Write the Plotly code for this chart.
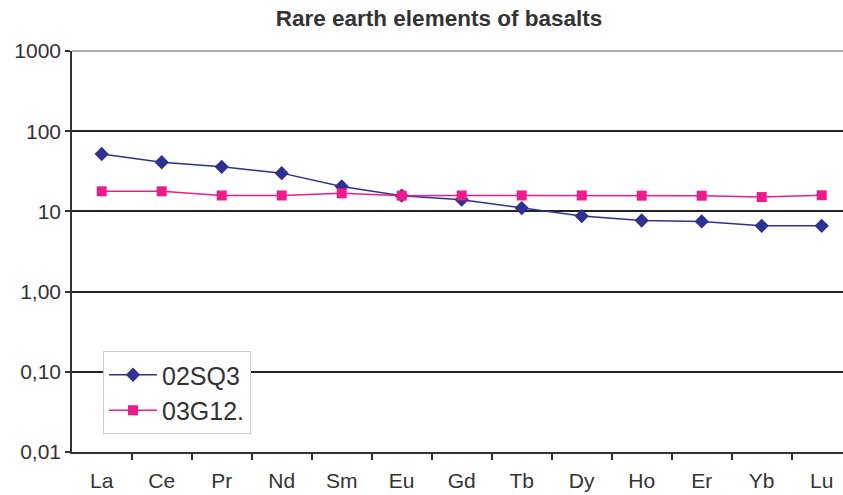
import plotly.graph_objects as go

elements = ["La", "Ce", "Pr", "Nd", "Sm", "Eu", "Gd", "Tb", "Dy", "Ho", "Er", "Yb", "Lu"]
s02SQ3 = [52, 41, 36, 30, 20.5, 15.7, 14, 11, 8.75, 7.7, 7.5, 6.6, 6.6]
s03G12 = [17.8, 17.8, 15.8, 15.8, 16.8, 15.7, 15.8, 15.8, 15.8, 15.7, 15.7, 15.1, 15.9]
ytick_vals = [0.01, 0.1, 1, 10, 100, 1000]
ytick_text = ["0,01", "0,10", "1,00", "10", "100", "1000"]

fig = go.Figure()
fig.add_trace(go.Scatter(
    x=elements, y=s02SQ3, name="02SQ3", mode="lines+markers",
    line=dict(color="#2E3192", width=1.5),
    marker=dict(symbol="diamond", size=11, color="#2E3192"),
))
fig.add_trace(go.Scatter(
    x=elements, y=s03G12, name="03G12.", mode="lines+markers",
    line=dict(color="#EC1C8C", width=1.5),
    marker=dict(symbol="square", size=10, color="#EC1C8C"),
))

fig.update_layout(
    width=843, height=495,
    margin=dict(l=72, r=0, t=51, b=43, autoexpand=False),
    paper_bgcolor="white", plot_bgcolor="white",
    font=dict(family="Liberation Sans, Arial, sans-serif", color="#333333"),
    title=dict(text="<b>Rare earth elements of basalts</b>", x=439/843, xref="container",
               xanchor="center", y=1 - 18/495, yref="container", yanchor="middle",
               font=dict(size=22.5, color="#333333")),
    xaxis=dict(type="category", range=[-0.495, 12.355], showgrid=False, automargin=False,
               showline=True, linecolor="#333333", linewidth=1.5,
               ticks="outside", tickson="boundaries", ticklen=6, tickwidth=1.5,
               tickcolor="#333333", tickfont=dict(size=21), ticklabelstandoff=9),
    yaxis=dict(type="log", range=[-2, 3], tickvals=ytick_vals, ticktext=ytick_text,
               automargin=False,
               showgrid=True, gridcolor="#222222", gridwidth=1.5,
               showline=True, linecolor="#333333", linewidth=1.5,
               ticks="outside", ticklen=5, tickwidth=1.5, tickcolor="#333333",
               tickfont=dict(size=21), zeroline=False),
    legend=dict(x=31/771, y=(452-351)/401, xanchor="left", yanchor="top",
                bgcolor="white", bordercolor="#CCCCCC", borderwidth=1,
                itemwidth=48,
                font=dict(size=25, color="#333333")),
    showlegend=True,
)
fig.add_shape(type="line", xref="paper", yref="paper", x0=0, x1=1, y0=1, y1=1,
              line=dict(color="#A8B0B0", width=2), layer="above")

fig.write_html("out.html", config={"displayModeBar": False},
               post_script="document.body.style.margin='0';document.body.style.overflow='hidden';")
